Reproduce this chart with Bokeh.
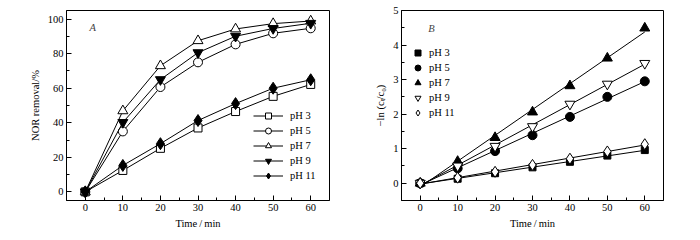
import numpy as np
from bokeh.plotting import figure
from bokeh.layouts import row
from bokeh.models import Range1d, FixedTicker, Legend, LegendItem, Label
from bokeh.embed import file_html
from bokeh.resources import INLINE

FONT = "Liberation Serif"
FS = "10.5px"

time_min = [0, 10, 20, 30, 40, 50, 60]
ph_labels = ["pH 3", "pH 5", "pH 7", "pH 9", "pH 11"]

# Panel A: NOR removal (%)
removal_ph3 = [0, 12.4, 25.2, 37.0, 46.5, 55.3, 62.2]
removal_ph5 = [0, 35.0, 60.7, 75.0, 85.4, 91.8, 94.7]
removal_ph7 = [0, 46.9, 73.0, 87.5, 94.3, 97.4, 98.9]
removal_ph9 = [0, 40.2, 65.0, 80.6, 90.1, 94.6, 97.6]
removal_ph11 = [0, 15.3, 27.9, 41.3, 51.1, 60.0, 64.9]

# Panel B: -ln(ct/c0)
lnc_ph3 = [0, 0.13, 0.29, 0.46, 0.62, 0.80, 0.96]
lnc_ph5 = [0, 0.43, 0.93, 1.39, 1.92, 2.50, 2.95]
lnc_ph7 = [0, 0.63, 1.32, 2.06, 2.82, 3.62, 4.49]
lnc_ph9 = [0, 0.50, 1.07, 1.64, 2.29, 2.87, 3.47]
lnc_ph11 = [0, 0.16, 0.33, 0.53, 0.71, 0.92, 1.13]

x_ticks = [0, 10, 20, 30, 40, 50, 60]
x_minor = [5, 15, 25, 35, 45, 55]
a_y_ticks = [0, 20, 40, 60, 80, 100]
a_y_minor = [10, 30, 50, 70, 90]
b_y_ticks = [0, 1, 2, 3, 4, 5]
b_y_minor = [0.5, 1.5, 2.5, 3.5, 4.5]


def style(p, yticks, yminor, ylabel):
    p.xgrid.visible = False
    p.ygrid.visible = False
    p.outline_line_color = "black"
    p.outline_line_width = 1
    p.xaxis.ticker = FixedTicker(ticks=x_ticks, minor_ticks=x_minor)
    p.yaxis.ticker = FixedTicker(ticks=yticks, minor_ticks=yminor)
    for ax in (p.xaxis[0], p.yaxis[0]):
        ax.axis_line_color = "black"
        ax.major_tick_in = 5
        ax.major_tick_out = 0
        ax.minor_tick_in = 3
        ax.minor_tick_out = 0
        ax.major_tick_line_color = "black"
        ax.minor_tick_line_color = "black"
        ax.major_label_text_font = FONT
        ax.major_label_text_font_size = FS
        ax.major_label_text_color = "black"
        ax.axis_label_text_font = FONT
        ax.axis_label_text_font_size = FS
        ax.axis_label_text_font_style = "normal"
        ax.axis_label_text_color = "black"
        ax.major_label_standoff = 3
        ax.axis_label_standoff = 4
    p.xaxis.axis_label = "Time\u2009/\u2009min"
    p.yaxis.axis_label = ylabel


# ---------------- Panel A ----------------
pa = figure(width=350, height=240, output_backend="svg", toolbar_location=None,
            x_range=Range1d(-5, 65), y_range=Range1d(-5, 105),
            min_border_left=66, min_border_right=21, min_border_top=10, min_border_bottom=40)
style(pa, a_y_ticks, a_y_minor, "NOR removal/%")

a_series = [removal_ph3, removal_ph5, removal_ph7, removal_ph9, removal_ph11]
a_markers = ["square", "circle", "triangle", "inverted_triangle", "diamond"]
a_fill = ["white", "white", "white", "black", "black"]
a_size = [8, 9, 10, 10, 12]
a_items = []
for lab, ys, mk, fc, sz in zip(ph_labels, a_series, a_markers, a_fill, a_size):
    ln = pa.line(time_min, ys, line_color="black", line_width=1)
    sc = pa.scatter(time_min, ys, marker=mk, size=sz, fill_color=fc, line_color="black", line_width=1)
    a_items.append(LegendItem(label=lab, renderers=[ln, sc]))

leg_a = Legend(items=a_items, location=(187, 17), padding=0, spacing=0,
               glyph_width=30, glyph_height=15, label_height=15, label_standoff=7,
               border_line_alpha=0, background_fill_alpha=0,
               label_text_font=FONT, label_text_font_size=FS, label_text_color="black")
pa.add_layout(leg_a)
pa.add_layout(Label(x=2, y=95, text="A", text_font=FONT, text_font_style="italic",
                    text_font_size=FS, text_align="center", text_baseline="middle"))

# ---------------- Panel B ----------------
pb = figure(width=350, height=240, output_backend="svg", toolbar_location=None,
            x_range=Range1d(-5, 65), y_range=Range1d(-0.5, 5),
            min_border_left=51, min_border_right=37, min_border_top=10, min_border_bottom=40)
style(pb, b_y_ticks, b_y_minor, "\u2212ln (c\u209c/c\u2080)")

b_series = [lnc_ph3, lnc_ph5, lnc_ph7, lnc_ph9, lnc_ph11]
b_markers = ["square", "circle", "triangle", "inverted_triangle", "diamond"]
b_fill = ["black", "black", "black", "white", "white"]
b_size = [7, 9, 10, 10, 11]
fit_x = np.array([0, 60])
for ys in b_series:
    k, c = np.polyfit(time_min, ys, 1)
    pb.line(fit_x, k * fit_x + c, line_color="black", line_width=1)
b_items = []
for lab, ys, mk, fc, sz in zip(ph_labels, b_series, b_markers, b_fill, b_size):
    sc = pb.scatter(time_min, ys, marker=mk, size=sz, fill_color=fc, line_color="black", line_width=1)
    b_items.append(LegendItem(label=lab, renderers=[sc]))

leg_b = Legend(items=b_items, location=(9, 80), padding=0, spacing=0,
               glyph_width=15, glyph_height=15, label_height=15, label_standoff=4,
               border_line_alpha=0, background_fill_alpha=0,
               label_text_font=FONT, label_text_font_size=FS, label_text_color="black")
pb.add_layout(leg_b)
pb.add_layout(Label(x=3, y=4.48, text="B", text_font=FONT, text_font_style="italic",
                    text_font_size=FS, text_align="center", text_baseline="middle"))

layout = row(pa, pb)
open("out.html", "w").write(file_html(layout, INLINE))
